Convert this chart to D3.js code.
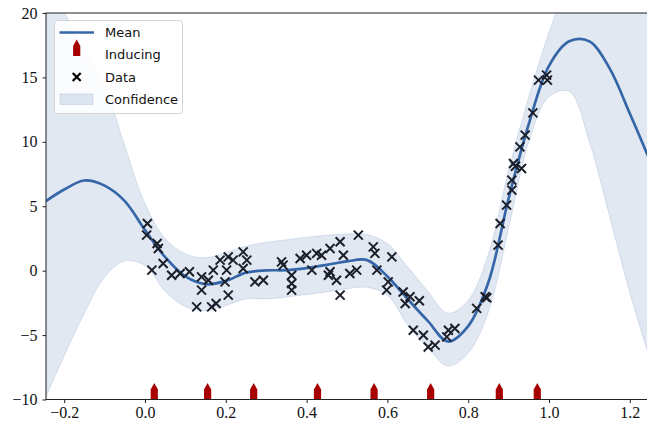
<!DOCTYPE html>
<html>
<head>
<meta charset="utf-8">
<script src="https://cdn.jsdelivr.net/npm/d3@7"></script>
<style>
  body { margin: 0; background: #fff; }
  svg { display: block; }
  .tick text { font-family: "Liberation Serif", "DejaVu Serif", serif; font-size: 16px; fill: #111; }
  .lab { font-family: "DejaVu Sans", sans-serif; font-size: 13px; fill: #111; }
</style>
</head>
<body>
<svg id="chart" width="647" height="424"></svg>
<script>
// Posterior evaluated on a regular grid of inputs
const gridX  = [-0.245, -0.2, -0.15, -0.1, -0.05, 0, 0.05, 0.1, 0.15, 0.2, 0.25, 0.3, 0.35, 0.4, 0.45, 0.5, 0.55, 0.6, 0.65, 0.7, 0.75, 0.8, 0.85, 0.9, 0.95, 1.0, 1.05, 1.1, 1.15, 1.2, 1.245];
const meanY  = [5.4, 6.3, 7.0, 6.6, 5.4, 3.15, 1.05, -0.45, -1.05, -0.8, -0.15, 0.02, 0.04, 0.2, 0.45, 0.72, 0.82, -0.45, -2.2, -3.9, -5.5, -4.3, -0.9, 5.6, 11.4, 15.9, 17.8, 17.8, 15.7, 12.2, 8.9];
const upperY = [22.7, 20.1, 17.0, 14.3, 9.7, 5.2, 2.5, 1.3, 1.0, 1.4, 1.9, 2.2, 2.4, 2.6, 2.75, 2.85, 2.8, 2.1, 0.3, -1.6, -3.3, -2.3, 1.3, 7.8, 13.5, 18.5, 22.5, 25.0, 26.5, 27.0, 27.0];
const lowerY = [-9.8, -6.6, -3.3, -0.5, 0.75, 0.4, -1.6, -2.8, -3.1, -2.7, -2.2, -2.2, -2.05, -1.85, -1.65, -1.4, -1.3, -1.9, -4.2, -6.0, -7.4, -6.4, -3.2, 3.3, 10.0, 13.5, 13.9, 10.0, 4.2, -1.7, -6.4];

// Observations
const dataX = [0.006, 0.004, 0.017, 0.030, 0.033, 0.045, 0.066, 0.087, 0.110, 0.128, 0.140, 0.140, 0.157, 0.165, 0.176, 0.169, 0.186, 0.198, 0.202, 0.206, 0.206, 0.218, 0.243, 0.252, 0.243, 0.272, 0.293, 0.338, 0.342, 0.363, 0.363, 0.363, 0.384, 0.400, 0.413, 0.425, 0.437, 0.454, 0.458, 0.458, 0.474, 0.483, 0.491, 0.483, 0.507, 0.528, 0.524, 0.565, 0.569, 0.574, 0.611, 0.602, 0.598, 0.639, 0.644, 0.656, 0.679, 0.664, 0.689, 0.701, 0.718, 0.751, 0.767, 0.747, 0.821, 0.842, 0.846, 0.874, 0.879, 0.895, 0.908, 0.908, 0.912, 0.917, 0.932, 0.928, 0.941, 0.960, 0.974, 0.996, 0.994];
const dataY = [3.66, 2.76, 0.04, 2.11, 1.72, 0.56, -0.35, -0.22, -0.09, -2.81, -0.48, -1.51, -0.74, -2.81, -2.55, 0.04, 0.82, -0.87, 0.04, -1.90, 1.07, 0.82, 1.46, 0.82, 0.17, -0.87, -0.74, 0.68, 0.43, -0.35, -0.99, -1.51, 0.95, 1.20, 0.04, 1.34, 1.20, -0.35, -0.09, 1.72, -0.74, 2.24, 1.20, -1.90, -0.22, 2.76, 0.04, 1.85, 1.34, 0.04, 1.07, -0.87, -1.51, -1.65, -2.55, -2.03, -2.34, -4.62, -5.01, -5.92, -5.78, -4.62, -4.49, -5.14, -2.93, -2.03, -2.10, 1.98, 3.66, 5.09, 6.25, 7.03, 8.32, 8.10, 7.93, 9.61, 10.52, 12.25, 14.79, 14.79, 15.18];

// Inducing inputs
const inducingX = [0.023, 0.155, 0.269, 0.427, 0.567, 0.707, 0.877, 0.971];

const xTicks = [-0.2, 0.0, 0.2, 0.4, 0.6, 0.8, 1.0, 1.2];
const yTicks = [-10, -5, 0, 5, 10, 15, 20];
const legendLabels = ["Mean", "Inducing", "Data", "Confidence"];

const meanColor = "#3566a8";
const bandFill = "rgba(53,102,168,0.15)";
const inducingColor = "#a80000";
const dataColor = "#1b1f2a";

const svg = d3.select("#chart");
const plotLeft = 46, plotRight = 648, plotTop = 13, plotBottom = 399.5;

const x = d3.scaleLinear().domain([-0.245, 1.245]).range([plotLeft, plotRight]);
const y = d3.scaleLinear().domain([-10, 20]).range([plotBottom, plotTop]);

svg.append("defs").append("clipPath").attr("id", "plot-clip")
  .append("rect").attr("x", plotLeft).attr("y", plotTop)
  .attr("width", plotRight - plotLeft).attr("height", plotBottom - plotTop);

const plot = svg.append("g").attr("clip-path", "url(#plot-clip)");

const grid = gridX.map((gx, i) => ({ x: gx, m: meanY[i], lo: lowerY[i], hi: upperY[i] }));

// Confidence band
plot.append("path")
  .datum(grid)
  .attr("d", d3.area().curve(d3.curveCatmullRom.alpha(0.5))
    .x(d => x(d.x)).y0(d => y(d.lo)).y1(d => y(d.hi)))
  .attr("fill", bandFill)
  .attr("stroke", "rgba(53,102,168,0.15)")
  .attr("stroke-width", 1);

// Posterior mean
plot.append("path")
  .datum(grid)
  .attr("d", d3.line().curve(d3.curveCatmullRom.alpha(0.5))
    .x(d => x(d.x)).y(d => y(d.m)))
  .attr("fill", "none")
  .attr("stroke", meanColor)
  .attr("stroke-width", 2.7);

// Data crosses
const cross = s => `M${-s},${-s}L${s},${s}M${-s},${s}L${s},${-s}`;
plot.append("g").selectAll("path")
  .data(dataX.map((dx, i) => [dx, dataY[i]]))
  .join("path")
  .attr("transform", d => `translate(${x(d[0])},${y(d[1])})`)
  .attr("d", cross(4.5))
  .attr("stroke", dataColor)
  .attr("stroke-width", 2)
  .attr("fill", "none");

// Inducing markers: upward arrow heads resting on the lower limit
const arrow = "M0,-16.5L3.6,-10L3.6,0L-3.6,0L-3.6,-10Z";
svg.append("g").selectAll("path")
  .data(inducingX)
  .join("path")
  .attr("transform", d => `translate(${x(d)},${y(-10)})`)
  .attr("d", arrow)
  .attr("fill", inducingColor);

// Axes
const xAxis = svg.append("g")
  .attr("transform", `translate(0,${plotBottom})`)
  .call(d3.axisBottom(x).tickValues(xTicks).tickSize(3.5).tickPadding(4).tickFormat(d3.format(".1f")));
const yAxis = svg.append("g")
  .attr("transform", `translate(${plotLeft},0)`)
  .call(d3.axisLeft(y).tickValues(yTicks).tickSize(3.5).tickPadding(5).tickFormat(d3.format("d")));

[xAxis, yAxis].forEach(a => {
  a.attr("font-family", null).attr("font-size", null);
  a.select(".domain").remove();
  a.selectAll(".tick line").attr("stroke", "#222").attr("stroke-width", 1);
  a.selectAll(".tick text").attr("fill", null);
});

// Frame
svg.append("rect")
  .attr("x", plotLeft).attr("y", plotTop)
  .attr("width", plotRight - plotLeft).attr("height", plotBottom - plotTop)
  .attr("fill", "none").attr("stroke", "#222").attr("stroke-width", 1);

// Legend
const lg = svg.append("g");
lg.append("rect")
  .attr("x", 54.5).attr("y", 20.5).attr("width", 128).attr("height", 93).attr("rx", 3)
  .attr("fill", "rgba(255,255,255,0.85)").attr("stroke", "#d4d4d4").attr("stroke-width", 1);

const rowY = [32.5, 54.5, 77, 99.5];
const hx0 = 59.5, hx1 = 94, hcx = 76.7;

lg.append("line").attr("x1", hx0).attr("x2", hx1).attr("y1", rowY[0]).attr("y2", rowY[0])
  .attr("stroke", meanColor).attr("stroke-width", 2.7);
lg.append("path").attr("transform", `translate(${hcx},${rowY[1] + 1.5})`)
  .attr("d", arrow).attr("fill", inducingColor);
lg.append("path").attr("transform", `translate(${hcx},${rowY[2]})`)
  .attr("d", cross(4)).attr("stroke", "#000").attr("stroke-width", 2.2).attr("fill", "none");
lg.append("rect").attr("x", 60).attr("y", rowY[3] - 5.5).attr("width", 33).attr("height", 10.5)
  .attr("fill", bandFill).attr("stroke", "rgba(53,102,168,0.15)");

lg.selectAll("text.lab")
  .data(legendLabels)
  .join("text")
  .attr("class", "lab")
  .attr("x", 105)
  .attr("y", (d, i) => rowY[i])
  .attr("dy", "0.35em")
  .text(d => d);
</script>
</body>
</html>
